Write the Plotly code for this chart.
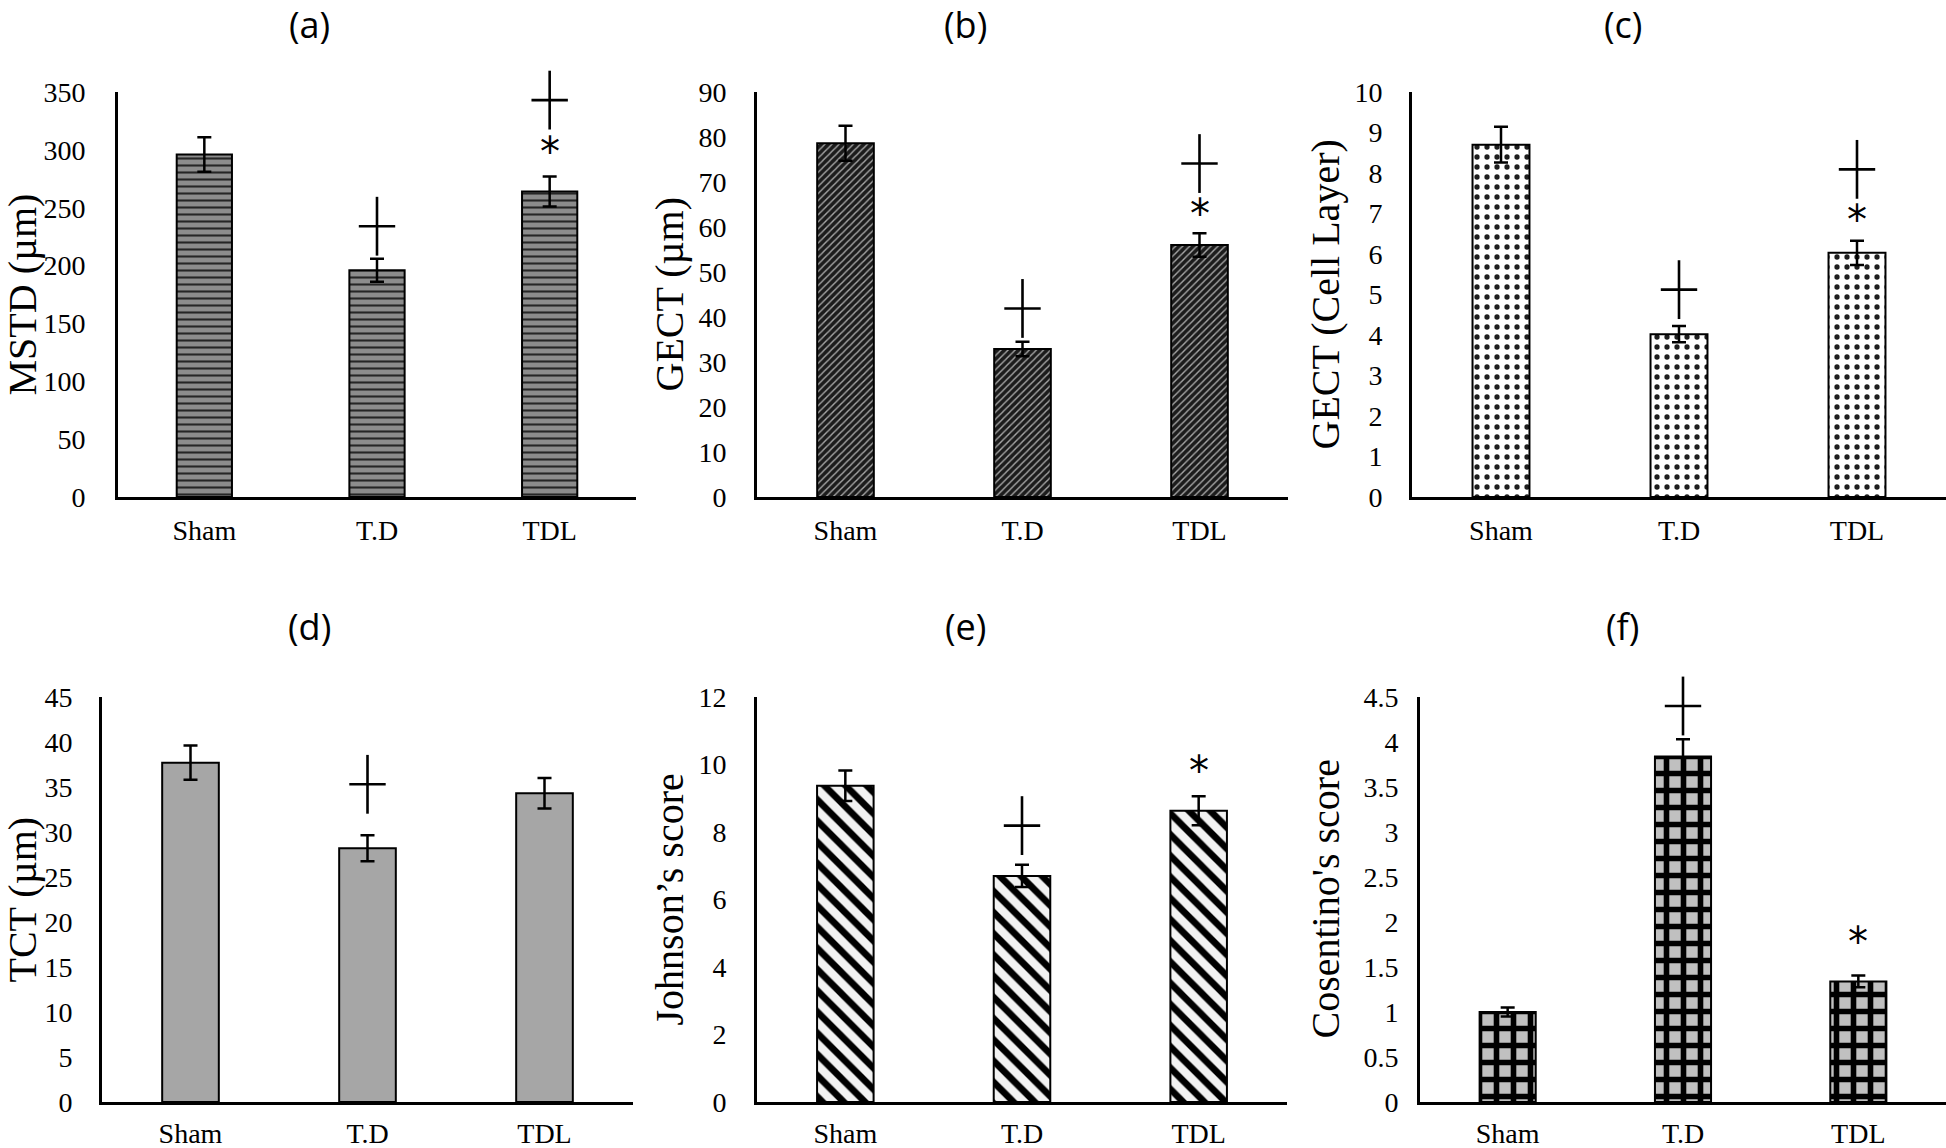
import plotly.graph_objects as go

# ---------------- data ----------------
categories = ["Sham", "T.D", "TDL"]

mstd_mean = [296, 196, 264]
mstd_err = [15, 10, 13]
mstd_cross = [None, 234, 343]
mstd_star = [None, None, 305]

gect_um_mean = [78.6, 32.9, 56.0]
gect_um_err = [3.9, 1.6, 2.6]
gect_um_cross = [None, 41.9, 74.1]
gect_um_star = [None, None, 64.6]

gect_cell_mean = [8.70, 4.02, 6.03]
gect_cell_err = [0.44, 0.20, 0.30]
gect_cell_cross = [None, 5.12, 8.09]
gect_cell_star = [None, None, 7.03]

tct_mean = [37.7, 28.2, 34.3]
tct_err = [1.9, 1.45, 1.7]
tct_cross = [None, 35.3, None]
tct_star = [None, None, None]

johnson_mean = [9.37, 6.70, 8.63]
johnson_err = [0.45, 0.33, 0.43]
johnson_cross = [None, 8.19, None]
johnson_star = [None, None, 10.03]

cosentino_mean = [1.00, 3.84, 1.34]
cosentino_err = [0.05, 0.19, 0.065]
cosentino_cross = [None, 4.40, None]
cosentino_star = [None, None, 1.87]

panel_labels = ["(a)", "(b)", "(c)", "(d)", "(e)", "(f)"]
y_titles = ["MSTD (µm)", "GECT (µm)", "GECT (Cell Layer)",
            "TCT (µm)", "Johnson’s score", "Cosentino's score"]
y_max = [350, 90, 10, 45, 12, 4.5]
y_dtick = [50, 10, 1, 5, 2, 0.5]

# ---------------- layout geometry (pixels) ----------------
W, H = 1946, 1148
def px(x): return x / W
def py(y): return 1 - y / H

x_doms = [(118, 636), (757, 1288), (1412, 1946),
          (102, 633), (757, 1287), (1420, 1946)]
y_doms = [(92, 497)] * 3 + [(697, 1102)] * 3
title_pos = [(309, 25), (965, 25), (1623, 25),
             (309, 626), (965, 626), (1622, 626)]
ytitle_x = [22, 669, 1325, 22, 669, 1325]
ytick_len = [24, 22, 21, 21, 22, 13]
xtick_len = [6, 6, 6, 4, 4, 4]

styles = [
    dict(color="#8c8c8c", pattern=dict(shape="-", fgcolor="#262626", bgcolor="#8c8c8c", size=7, solidity=0.3, fgopacity=1)),
    dict(color="#1c1c1c", pattern=dict(shape="/", fgcolor="#a8a8a8", bgcolor="#1c1c1c", size=5, solidity=0.28, fgopacity=1)),
    dict(color="#ffffff", pattern=dict(shape=".", fgcolor="#1e1e1e", bgcolor="#ffffff", size=10, solidity=0.22, fgopacity=1)),
    dict(color="#a6a6a6", pattern=dict(shape="")),
    dict(color="#f2f2f2", pattern=dict(shape="\\", fgcolor="#000000", bgcolor="#f2f2f2", size=15, solidity=0.45, fgopacity=1)),
    dict(color="#c0c0c0", pattern=dict(shape="+", fgcolor="#000000", bgcolor="#c0c0c0", size=17, solidity=0.55, fgopacity=1)),
]

means = [mstd_mean, gect_um_mean, gect_cell_mean, tct_mean, johnson_mean, cosentino_mean]
errs = [mstd_err, gect_um_err, gect_cell_err, tct_err, johnson_err, cosentino_err]
crosses = [mstd_cross, gect_um_cross, gect_cell_cross, tct_cross, johnson_cross, cosentino_cross]
stars = [mstd_star, gect_um_star, gect_cell_star, tct_star, johnson_star, cosentino_star]

fig = go.Figure()
annotations = []
layout = {}
serif = "Liberation Serif, Times New Roman, serif"

for i in range(6):
    k = "" if i == 0 else str(i + 1)
    xa, ya = "x" + k, "y" + k
    st = styles[i]
    fig.add_trace(go.Bar(
        x=categories, y=means[i], xaxis=xa, yaxis=ya,
        marker=dict(color=st["color"], line=dict(color="black", width=2),
                    pattern=st["pattern"]),
        error_y=dict(type="data", array=errs[i], color="black", thickness=2.5, width=7),
        width=0.32, showlegend=False, hoverinfo="skip",
    ))
    # significance crosses (+)
    cx = [c for c, v in zip(categories, crosses[i]) if v is not None]
    cy = [v for v in crosses[i] if v is not None]
    if cx:
        for sym, size in (("line-ns", 42), ("line-ew", 26)):
            fig.add_trace(go.Scatter(
                x=cx, y=cy, xaxis=xa, yaxis=ya, mode="markers",
                marker=dict(symbol=sym, size=size, line=dict(color="black", width=2.6)),
                cliponaxis=False, showlegend=False, hoverinfo="skip",
            ))
    # asterisks
    for c, v in zip(categories, stars[i]):
        if v is not None:
            annotations.append(dict(
                x=c, y=v, xref=xa, yref=ya, text="*", showarrow=False,
                font=dict(family="DejaVu Sans", size=40, color="black"),
                xanchor="center", yanchor="middle", yshift=-8,
            ))
    x0, x1 = x_doms[i]
    y0, y1 = y_doms[i]
    layout["xaxis" + k] = dict(
        domain=[px(x0), px(x1)], anchor=ya, type="category", automargin=False,
        range=[-0.5, 2.5], showline=True, linecolor="black", linewidth=3,
        ticks="outside", ticklen=xtick_len[i], tickcolor="rgba(0,0,0,0)",
        showgrid=False, zeroline=False,
        tickfont=dict(family=serif, size=28, color="black"),
    )
    layout["yaxis" + k] = dict(
        domain=[py(y1), py(y0)], anchor=xa, range=[0, y_max[i]], automargin=False,
        dtick=y_dtick[i], tick0=0, showline=True, linecolor="black", linewidth=3,
        ticks="outside", ticklen=ytick_len[i], tickcolor="rgba(0,0,0,0)",
        showgrid=False, zeroline=False,
        tickfont=dict(family=serif, size=28, color="black"),
    )
    tx, ty = title_pos[i]
    annotations.append(dict(
        x=px(tx), y=py(ty), xref="paper", yref="paper", text=panel_labels[i],
        showarrow=False, xanchor="center", yanchor="middle",
        font=dict(family="Open Sans, Noto Sans, sans-serif", size=36, color="black"),
    ))
    annotations.append(dict(
        x=px(ytitle_x[i]), y=py((y0 + y1) / 2), xref="paper", yref="paper",
        text=y_titles[i], textangle=-90, showarrow=False,
        xanchor="center", yanchor="middle",
        font=dict(family=serif, size=40, color="black"),
    ))

fig.update_layout(
    template="none",
    width=W, height=H, margin=dict(l=0, r=0, t=0, b=0, pad=0, autoexpand=False),
    paper_bgcolor="white", plot_bgcolor="white",
    bargap=0.68, annotations=annotations, **layout,
)

fig.write_html("out.html", config={"displayModeBar": False},
               post_script="document.body.style.margin='0';document.body.style.overflow='hidden';")
